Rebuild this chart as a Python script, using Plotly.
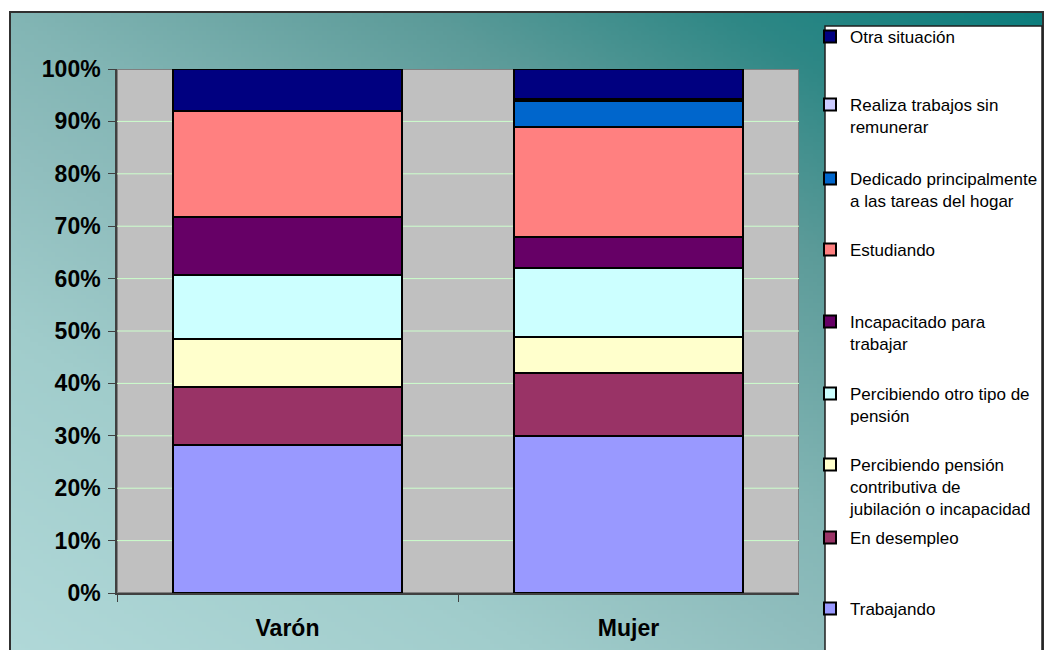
import base64
import struct
import zlib

import plotly.graph_objects as go

# ---------------- data ----------------
categories = ["Varón", "Mujer"]

trabajando = [28.2, 30.0]
en_desempleo = [11.1, 11.9]
pension_contributiva = [9.1, 6.9]
otro_tipo_pension = [12.3, 13.2]
incapacitado = [11.0, 6.0]
estudiando = [20.3, 21.0]
tareas_hogar = [0.0, 4.9]
trabajos_sin_remunerar = [0.0, 0.3]
otra_situacion = [8.0, 5.8]

series_names = [
    "Trabajando",
    "En desempleo",
    "Percibiendo pensión<br>contributiva de<br>jubilación o incapacidad",
    "Percibiendo otro tipo de<br>pensión",
    "Incapacitado para<br>trabajar",
    "Estudiando",
    "Dedicado principalmente<br>a las tareas del hogar",
    "Realiza trabajos sin<br>remunerar",
    "Otra situación",
]
series_values = [
    trabajando, en_desempleo, pension_contributiva, otro_tipo_pension,
    incapacitado, estudiando, tareas_hogar, trabajos_sin_remunerar, otra_situacion,
]
series_colors = [
    "#9999FF", "#993366", "#FFFFCC", "#CCFFFF", "#660066",
    "#FF8080", "#0066CC", "#CCCCFF", "#000080",
]
y_tick_values = [0, 10, 20, 30, 40, 50, 60, 70, 80, 90, 100]
y_tick_labels = [f"{v}%" for v in y_tick_values]

# ---------------- page geometry (pixels) ----------------
W, H = 1045, 650
ML, MR, MT, MB = 10, 2, 12, 0
PW, PH = W - ML - MR, H - MT - MB


def px_x(x):
    return (x - ML) / PW


def px_y(y):
    return (H - MB - y) / PH


# ---------------- gradient background image ----------------
stops = [
    (0.00, (0xB0, 0xD8, 0xD8)),
    (0.25, (0xA0, 0xCC, 0xCB)),
    (0.40, (0x8F, 0xBD, 0xBD)),
    (0.50, (0x82, 0xB5, 0xB4)),
    (0.70, (0x5C, 0x9B, 0x99)),
    (0.85, (0x2E, 0x87, 0x85)),
    (1.00, (0x0C, 0x7D, 0x7D)),
]


def grad(t):
    for (t0, c0), (t1, c1) in zip(stops[:-1], stops[1:]):
        if t <= t1:
            f = (t - t0) / (t1 - t0) if t1 > t0 else 0
            return tuple(int(round(a + (b - a) * f)) for a, b in zip(c0, c1))
    return stops[-1][1]


IW, IH = 240, 150
rows = []
for j in range(IH):
    yf = 1 - j / (IH - 1)
    row = bytearray([0])
    for i in range(IW):
        xf = i / (IW - 1)
        row.extend(grad((xf + yf) / 2))
    rows.append(bytes(row))


def chunk(tag, data):
    c = struct.pack(">I", len(data)) + tag + data
    return c + struct.pack(">I", zlib.crc32(tag + data) & 0xFFFFFFFF)


png = b"\x89PNG\r\n\x1a\n"
png += chunk(b"IHDR", struct.pack(">IIBBBBB", IW, IH, 8, 2, 0, 0, 0))
png += chunk(b"IDAT", zlib.compress(b"".join(rows), 9))
png += chunk(b"IEND", b"")
img_uri = "data:image/png;base64," + base64.b64encode(png).decode()

# ---------------- figure ----------------
FONT = "Liberation Sans, Arial, sans-serif"
fig = go.Figure()

legend_first_line_y = [611, 540, 467, 396, 324, 252, 181, 107, 39]

for k, (name, vals, col) in enumerate(zip(series_names, series_values, series_colors)):
    lg = "legend" if k == 0 else f"legend{k + 1}"
    fig.add_trace(go.Bar(
        x=categories, y=vals, name=name,
        marker=dict(color=col, line=dict(color="#000000", width=2)),
        legend=lg,
    ))

legends = {}
for k, yc in enumerate(legend_first_line_y):
    key = "legend" if k == 0 else f"legend{k + 1}"
    legends[key] = dict(
        x=px_x(810), y=px_y(yc - 20), xanchor="left", yanchor="top",
        bgcolor="rgba(0,0,0,0)", borderwidth=0,
        font=dict(family=FONT, size=17, color="#000000"),
        valign="top", itemclick=False, itemdoubleclick=False,
    )

fig.update_layout(
    width=W, height=H,
    autosize=False,
    margin=dict(l=ML, r=MR, t=MT, b=MB, pad=0, autoexpand=False),
    paper_bgcolor="#FFFFFF",
    plot_bgcolor="rgba(0,0,0,0)",
    barmode="stack",
    barnorm="percent",
    bargap=0.33,
    showlegend=True,
    **legends,
    xaxis=dict(
        domain=[px_x(117), px_x(799)],
        type="category",
        range=[-0.5, 1.5],
        showline=True, linecolor="#404040", linewidth=1.5,
        ticks="outside", tickson="boundaries", ticklen=7, tickcolor="#404040",
        tickfont=dict(family=FONT, size=23, color="#000000", weight="bold"),
        ticklabelstandoff=14,
        showgrid=False, zeroline=False, fixedrange=True,
    ),
    yaxis=dict(
        domain=[px_y(593), px_y(69)],
        range=[0, 100],
        tickmode="array",
        tickvals=y_tick_values,
        ticktext=y_tick_labels,
        showline=True, linecolor="#404040", linewidth=1.5,
        ticks="outside", ticklen=7, tickcolor="#404040",
        tickfont=dict(family=FONT, size=23, color="#000000", weight="bold"),
        ticklabelstandoff=3,
        showgrid=False,
        zeroline=False, fixedrange=True,
    ),
    images=[dict(
        source=img_uri, xref="paper", yref="paper", x=0, y=1,
        sizex=1, sizey=1, xanchor="left", yanchor="top",
        sizing="stretch", layer="below",
    )],
)

shapes = [
    # chart area border (left, top, right)
    dict(type="path", xref="paper", yref="paper",
         path="M 0,0 L 0,1 L 1,1 L 1,0",
         line=dict(color="#303030", width=2), layer="above"),
    # plot area background + grey outline, under the bars
    dict(type="rect", xref="x", yref="y", x0=-0.5, x1=1.5, y0=0, y1=100,
         fillcolor="#C0C0C0", line=dict(color="#808080", width=2), layer="below"),
]
# horizontal gridlines at the tick values (under the bars)
for v in y_tick_values[1:-1]:
    shapes.append(dict(type="line", xref="x", yref="y", x0=-0.5, x1=1.5, y0=v, y1=v,
                       line=dict(color="#CCFFCC", width=1), layer="below"))
# legend box
shapes.append(dict(type="rect", xref="paper", yref="paper",
                   x0=px_x(825), x1=px_x(1042), y0=-0.01, y1=px_y(26),
                   fillcolor="#FFFFFF", line=dict(color="#202020", width=1.5), layer="above"))
fig.update_layout(shapes=shapes)

fig.write_html(
    "out.html",
    config=dict(responsive=False, displayModeBar=False),
    post_script="document.body.style.margin='0';document.body.style.overflow='hidden';",
)
